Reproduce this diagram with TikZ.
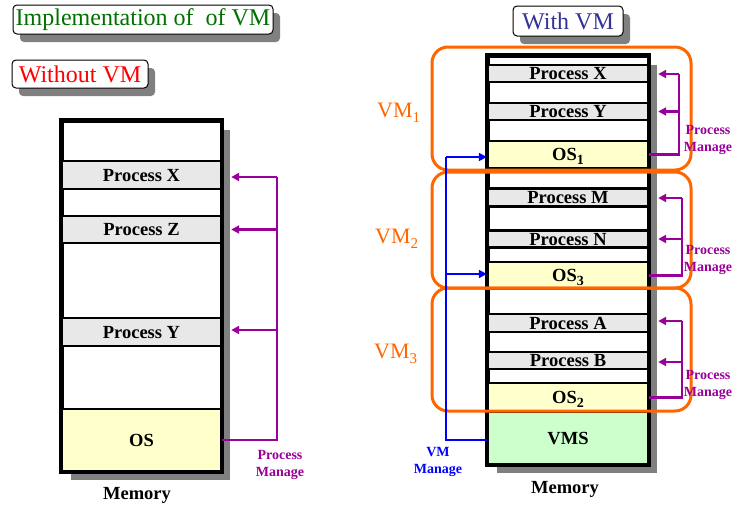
\documentclass[tikz,border=0pt]{standalone}
\usepackage{fontspec}
\setmainfont{Liberation Serif}
\usetikzlibrary{arrows.meta,shadows}
\definecolor{tgreen}{RGB}{0,112,0}
\definecolor{wblue}{RGB}{51,51,153}
\definecolor{vmorange}{RGB}{255,102,0}
\definecolor{pmpurple}{RGB}{153,0,153}
\definecolor{procgray}{RGB}{232,232,232}
\definecolor{osyellow}{RGB}{255,255,204}
\definecolor{vmsgreen}{RGB}{204,255,204}
\definecolor{shadowgray}{RGB}{128,128,128}
\newcommand{\subn}[2]{\raisebox{-#2}{\fontsize{14}{14}\selectfont #1}}
\newcommand{\vmsub}[1]{\raisebox{-5pt}{\fontsize{15}{15}\selectfont #1}}
\begin{document}
\begin{tikzpicture}[x=1pt,y=-1pt,
  titlebox/.style={draw=black, line width=1pt, rounded corners=4pt, fill=white, inner sep=0pt,
     drop shadow={shadow xshift=7pt, shadow yshift=-8pt, fill=shadowgray, opacity=1},
     font=\fontsize{24}{24}\selectfont},
  memframe/.style={draw=black, line width=3pt, fill=white, inner sep=0pt,
     drop shadow={shadow xshift=9pt, shadow yshift=-9pt, fill=shadowgray, opacity=1}},
  rowbox/.style={draw=black, line width=2.4pt, inner sep=0pt, minimum width=160pt,
     text height=12pt, text depth=0pt, font=\fontsize{18.5}{18.5}\selectfont\bfseries},
  proc/.style={rowbox, fill=procgray},
  osbox/.style={rowbox, fill=osyellow},
  vmsbox/.style={rowbox, fill=vmsgreen},
  vmbox/.style={draw=vmorange, line width=3pt, rounded corners=16pt, inner sep=0pt},
  vmlabel/.style={text=vmorange, inner sep=0pt, font=\fontsize{22}{22}\selectfont},
  pline/.style={draw=pmpurple, line width=2.6pt},
  parrow/.style={pline, -{Triangle[length=8pt,width=8pt]}, shorten >=9pt},
  bline/.style={draw=blue, line width=2.6pt},
  barrow/.style={bline, -{Triangle[length=8pt,width=8pt]}},
  pmlabel/.style={text=pmpurple, align=center, inner sep=0pt, font=\fontsize{14}{16.5}\selectfont\bfseries},
  vmmlabel/.style={text=blue, align=center, inner sep=0pt, font=\fontsize{14}{17.5}\selectfont\bfseries},
  memlabel/.style={inner sep=0pt, font=\fontsize{18.5}{18.5}\selectfont\bfseries}
]
\useasboundingbox (0,0) rectangle (733,506);

% titles
\node[titlebox, text=tgreen, minimum width=260pt, minimum height=29pt] (t1) at (143,19.5) {Implementation of\ \ of VM};
\node[titlebox, text=red, minimum width=136pt, minimum height=28pt] (t2) at (80,74) {Without VM};
\node[titlebox, text=wblue, minimum width=110pt, minimum height=30pt] (t3) at (568,21) {With VM};

% ---------------- left memory ----------------
\node[memframe, minimum width=159pt, minimum height=350pt] (lmem) at (141.5,296) {};
\node[proc, minimum width=159pt, minimum height=28pt] (lpx) at (141.5,175) {Process X};
\node[proc, minimum width=159pt, minimum height=27pt] (lpz) at (141.5,229.5) {Process Z};
\node[proc, minimum width=159pt, minimum height=28pt] (lpy) at (141.5,332) {Process Y};
\node[osbox, minimum width=159pt, minimum height=62pt] (los) at (141.5,440) {OS};
\draw[line width=3.2pt] (lmem.north west) rectangle (lmem.south east);
\node[memlabel] (lmemt) at (137,495) {Memory};

\coordinate (lb) at (277,177);
\draw[pline] (los.east) -| (lb);
\draw[parrow] (lb) -- (lb -| lpx.east);
\draw[parrow] (lb |- lpz.east) -- (lpz.east);
\draw[parrow] (lb |- 0,330) -- (lpy.east |- 0,330);
\node[pmlabel] (lpm) at (280,465) {Process\\Manage};

% ---------------- right memory ----------------
\node[memframe, minimum width=160pt, minimum height=408pt] (rmem) at (568,260) {};
\node[proc, minimum height=17pt] (rpx) at (568,73.5) {Process X};
\node[proc, minimum height=17pt] (rpy) at (568,111.5) {Process Y};
\node[osbox, minimum height=27pt] (os1) at (568,154.5) {OS\subn{1}{4pt}};
\node[proc, minimum height=18pt] (rpm) at (568,197.5) {Process M};
\node[proc, minimum height=17pt] (rpn) at (568,239) {Process N};
\node[osbox, minimum height=27pt] (os3) at (568,275.5) {OS\subn{3}{4pt}};
\node[proc, minimum height=18pt] (rpa) at (568,323) {Process A};
\node[proc, minimum height=17pt] (rpb) at (568,360.5) {Process B};
\node[osbox, minimum height=29pt] (os2) at (568,397.5) {OS\subn{2}{4pt}};
\node[vmsbox, minimum height=52pt] (vms) at (568,438) {VMS};
\draw[line width=3.2pt] (rmem.north west) rectangle (rmem.south east);
\node[memlabel] (rmemt) at (565,489) {Memory};

% VM boxes
\node[vmbox, minimum width=259pt, minimum height=123pt] (vm1) at (561.5,108.5) {};
\node[vmbox, minimum width=259pt, minimum height=116pt] (vm2) at (561.5,230) {};
\node[vmbox, minimum width=259pt, minimum height=123pt] (vm3) at (561.5,349.5) {};
\node[vmlabel, anchor=base west] (vm1l) at (377,117) {VM\vmsub{1}};
\node[vmlabel, anchor=base west] (vm2l) at (375,243) {VM\vmsub{2}};
\node[vmlabel, anchor=base west] (vm3l) at (374,358) {VM\vmsub{3}};

% process manage (right)
\coordinate (b1) at (679,74);
\draw[pline] (os1.east) -| (b1);
\draw[parrow] (b1) -- (b1 -| rpx.east);
\draw[parrow] (b1 |- rpy.east) -- (rpy.east);
\coordinate (b2) at (682,198);
\draw[pline] (os3.east) -| (b2);
\draw[parrow] (b2) -- (b2 -| rpm.east);
\draw[parrow] (b2 |- rpn.east) -- (rpn.east);
\coordinate (b3) at (682,321);
\draw[pline] (os2.east) -| (b3);
\draw[parrow] (b3) -- (b3 -| rpa.east);
\draw[parrow] (b3 |- 0,362) -- (rpb.east |- 0,362);
\node[pmlabel] (pm1) at (708,140) {Process\\Manage};
\node[pmlabel] (pm2) at (708,260) {Process\\Manage};
\node[pmlabel] (pm3) at (708,385) {Process\\Manage};

% VM manage (blue)
\coordinate (vb) at (446,157);
\draw[bline] ([yshift=-2pt]vms.west) -| (vb);
\draw[barrow] (vb) -- (vb -| os1.west);
\draw[barrow] (vb |- 0,274) -- (os3.west |- 0,274);
\node[vmmlabel] (vmm) at (438,462) {VM\\Manage};
\end{tikzpicture}
\end{document}
